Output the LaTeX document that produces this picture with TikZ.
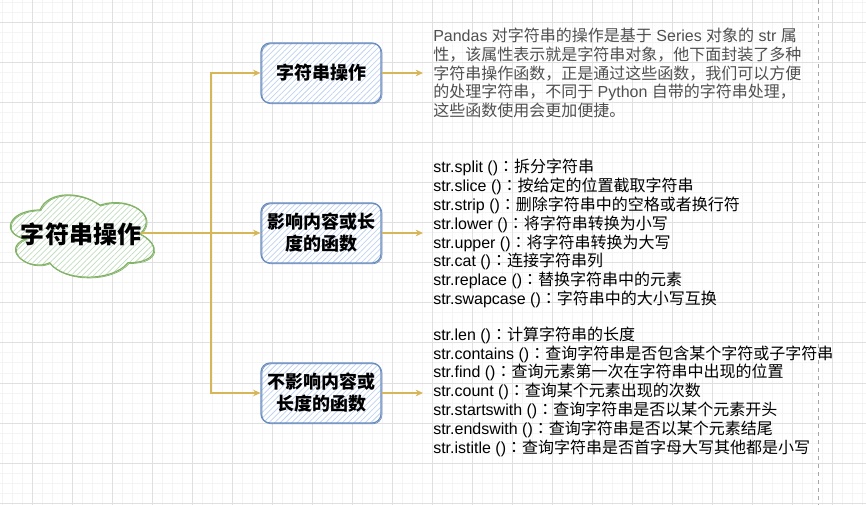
\documentclass[tikz,border=0pt]{standalone}
\usepackage{fontspec}
\setmainfont{Noto Sans CJK SC}
\newfontfamily\enfont{Liberation Sans}
\newfontfamily\tcfont{Noto Sans CJK TC}
\usetikzlibrary{arrows.meta,patterns.meta}
\definecolor{edgeor}{HTML}{D6B656}
\definecolor{boxstroke}{HTML}{6C8EBF}
\definecolor{bluehatch}{HTML}{BFD3F2}
\definecolor{cloudstroke}{HTML}{82B366}
\definecolor{greenhatch}{HTML}{C2DDC0}
\definecolor{majorgrid}{HTML}{E0E0E0}
\definecolor{minorgrid}{HTML}{F4F4F4}
\definecolor{pagedash}{HTML}{A8A8A8}
\definecolor{desctext}{HTML}{505050}
\newcommand\en[1]{{\enfont #1}}
\newcommand\cc{{\tcfont ：}}
\tikzset{
  gridminor/.style={draw=minorgrid, line width=0.75pt},
  gridmajor/.style={draw=majorgrid, line width=0.75pt},
  edge/.style={draw=edgeor, line width=1.1pt},
  thickedge/.style={draw=edgeor, line width=1.7pt},
  tip/.style={-{Stealth[length=5.5pt,width=5pt,fill=edgeor!40]}},
  topic/.style={draw=boxstroke, line width=0.9pt, rounded corners=6.75pt,
    minimum width=90pt, minimum height=45pt, align=center, inner sep=0pt,
    font=\fontsize{13.5pt}{16.5pt}\selectfont\bfseries,
    preaction={fill=white},
    pattern={Lines[angle=45,distance=3pt,line width=0.55pt]}, pattern color=bluehatch,
    postaction={draw=boxstroke, line width=0.5pt, transform canvas={shift={(0.7pt,-0.6pt)}}}},
  desc/.style={anchor=west, align=left, inner ysep=0pt, inner xsep=7.5pt,
    font=\fontsize{12pt}{14.1pt}\selectfont},
  cloudtext/.style={inner sep=0pt, font=\fontsize{18pt}{20pt}\selectfont\bfseries},
}
\begin{document}
\begin{tikzpicture}[x=0.75pt,y=-0.75pt]
\useasboundingbox (0,0) rectangle (866,505);
\fill[white] (0,0) rectangle (866,505);
% grid
\foreach \x in {2,12,...,862} \draw[gridminor] (\x,0) -- (\x,505);
\foreach \y in {3,13,...,503} \draw[gridminor] (0,\y) -- (866,\y);
\foreach \x in {32,72,...,832} \draw[gridmajor] (\x,0) -- (\x,505);
\foreach \y in {23,63,...,503} \draw[gridmajor] (0,\y) -- (866,\y);
% page boundary
\draw[pagedash, line width=0.75pt, dash pattern=on 3pt off 3pt] (818,0) -- (818,505);
% cloud
\path[draw=cloudstroke, line width=0.9pt, preaction={fill=white},
  pattern={Lines[angle=45,distance=3pt,line width=0.55pt]}, pattern color=greenhatch,
  postaction={draw=cloudstroke, line width=0.5pt, transform canvas={shift={(0.7pt,-0.6pt)}}}]
  (40,210) .. controls (8,210) and (0,234) .. (25.6,238.8)
  .. controls (0,249.4) and (28.8,272.4) .. (49.6,262.8)
  .. controls (64,282) and (112,282) .. (128,262.8)
  .. controls (160,262.8) and (160,243.6) .. (140,234)
  .. controls (160,214.8) and (128,195.6) .. (100,205.2)
  .. controls (80,190.8) and (48,190.8) .. (40,210) -- cycle;
\node[cloudtext] (root) at (81,234) {字符串操作};
\coordinate (rootE) at (141,233);
% topic boxes
\node[topic] (b1) at (321,73) {字符串操作};
\node[topic] (b2) at (321,233) {影响内容或长\\度的函数};
\node[topic] (b3) at (321,393) {不影响内容或\\长度的函数};
% descriptions
\node[desc, text=desctext] (t1) at (423,73) {%
\en{Pandas }对字符串的操作是基于\en{ Series }对象的\en{ str }属\\
性，该属性表示就是字符串对象，他下面封装了多种\\
字符串操作函数，正是通过这些函数，我们可以方便\\
的处理字符串，不同于\en{ Python }自带的字符串处理，\\
这些函数使用会更加便捷。};
\node[desc, text=black] (t2) at (423,233.5) {%
\en{str.split ()}\cc 拆分字符串\\
\en{str.slice ()}\cc 按给定的位置截取字符串\\
\en{str.strip ()}\cc 删除字符串中的空格或者换行符\\
\en{str.lower ()}\cc 将字符串转换为小写\\
\en{str.upper ()}\cc 将字符串转换为大写\\
\en{str.cat ()}\cc 连接字符串列\\
\en{str.replace ()}\cc 替换字符串中的元素\\
\en{str.swapcase ()}\cc 字符串中的大小写互换};
\node[desc, text=black] (t3) at (423,391.5) {%
\en{str.len ()}\cc 计算字符串的长度\\
\en{str.contains ()}\cc 查询字符串是否包含某个字符或子字符串\\
\en{str.find ()}\cc 查询元素第一次在字符串中出现的位置\\
\en{str.count ()}\cc 查询某个元素出现的次数\\
\en{str.startswith ()}\cc 查询字符串是否以某个元素开头\\
\en{str.endswith ()}\cc 查询字符串是否以某个元素结尾\\
\en{str.istitle ()}\cc 查询字符串是否首字母大写其他都是小写};
% connectors
\coordinate (J) at (211,233);
\draw[thickedge] (rootE) -- (J);
\draw[edge,tip] (J) |- (b1.west);
\draw[edge,tip] (J) -- (b2.west);
\draw[edge,tip] (J) |- (b3.west);
\draw[edge,tip] (b1.east) -- (b1.east -| t1.west);
\draw[edge,tip] (b2.east) -- (b2.east -| t2.west);
\draw[edge,tip] (b3.east) -- (b3.east -| t3.west);
\end{tikzpicture}
\end{document}
